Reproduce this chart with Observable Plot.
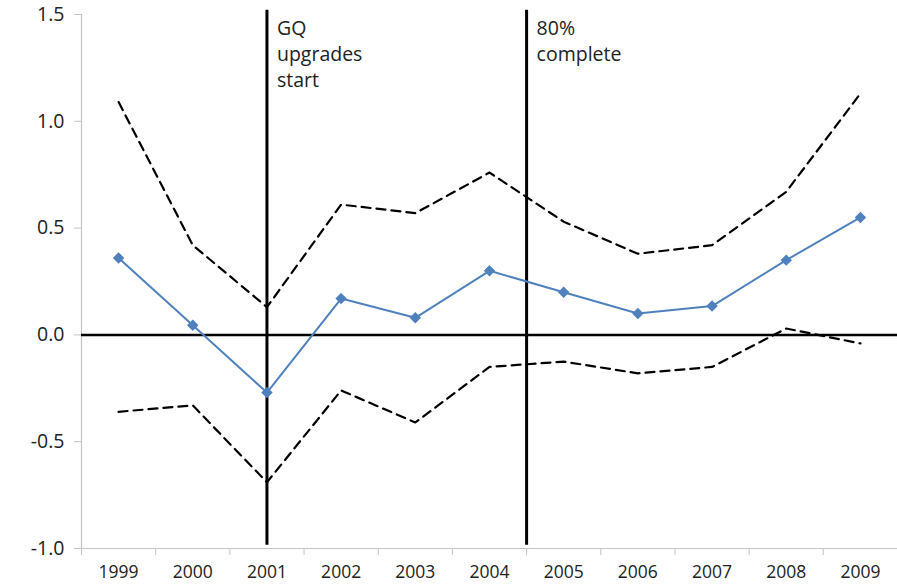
<!DOCTYPE html>
<html>
<head>
<meta charset="utf-8">
<script src="https://cdn.jsdelivr.net/npm/d3@7"></script>
<script src="https://cdn.jsdelivr.net/npm/@observablehq/plot@0.6"></script>
<style>
  html, body { margin: 0; padding: 0; background: #fff; }
  #chart svg { display: block; }
</style>
</head>
<body>
<div id="chart"></div>
<script>
// Annual estimates with upper and lower confidence bounds
const years = [1999, 2000, 2001, 2002, 2003, 2004, 2005, 2006, 2007, 2008, 2009];
const estimate = [0.36, 0.045, -0.27, 0.17, 0.08, 0.30, 0.20, 0.10, 0.135, 0.35, 0.55];
const upper = [1.09, 0.42, 0.13, 0.61, 0.57, 0.76, 0.53, 0.38, 0.42, 0.67, 1.13];
const lower = [-0.36, -0.33, -0.69, -0.26, -0.41, -0.15, -0.125, -0.18, -0.15, 0.03, -0.04];
const yTicks = [-1.0, -0.5, 0.0, 0.5, 1.0, 1.5];

// Event markers: position on the year axis and label lines
const events = [
  {x: 2001, label: "GQ\nupgrades\nstart"},
  {x: 2004.5, label: "80%\ncomplete"}
];

const rows = years.map((year, i) => ({year, estimate: estimate[i], upper: upper[i], lower: lower[i]}));
const boundaries = d3.range(years[0] - 0.5, years[years.length - 1] + 1, 1);

const font = "'Open Sans', 'DejaVu Sans', sans-serif";

const chart = Plot.plot({
  width: 897,
  height: 584,
  marginLeft: 81,
  marginRight: 0,
  marginTop: 14,
  marginBottom: 36,
  style: {fontFamily: font, background: "#fff", color: "#222"},
  x: {domain: [years[0] - 0.5, years[years.length - 1] + 0.5]},
  y: {domain: [-1, 1.5]},
  marks: [
    // axis frame lines
    Plot.ruleX([years[0] - 0.5], {stroke: "#c4c4c4", strokeWidth: 1.2}),
    Plot.ruleY([-1], {stroke: "#c4c4c4", strokeWidth: 1.2}),
    Plot.axisY({ticks: yTicks, tickFormat: d => d.toFixed(1), tickSize: 7, tickPadding: 10, fontSize: 19.5, stroke: "#c4c4c4", fill: "#222"}),
    Plot.axisX({ticks: boundaries, tickFormat: () => "", tickSize: 7, stroke: "#c4c4c4", label: null}),
    Plot.axisX({ticks: years, tickFormat: d => String(d), tickSize: 0, tickPadding: 17, fontSize: 17.5, fill: "#222", label: null}),
    // zero reference
    Plot.ruleY([0], {stroke: "#000", strokeWidth: 2.5}),
    // event lines
    Plot.ruleX(events, {x: "x", y1: -0.985, y2: 1.52, stroke: "#000", strokeWidth: 3}),
    Plot.text(events, {x: "x", y: 1.52, text: "label", dx: 10, dy: 6, textAnchor: "start", lineAnchor: "top", lineHeight: 1.34, fontSize: 19.5, fill: "#222"}),
    // confidence bounds
    Plot.line(rows, {x: "year", y: "upper", stroke: "#000", strokeWidth: 2.2, strokeDasharray: "9,6"}),
    Plot.line(rows, {x: "year", y: "lower", stroke: "#000", strokeWidth: 2.2, strokeDasharray: "9,6"}),
    // point estimates
    Plot.line(rows, {x: "year", y: "estimate", stroke: "#4F81BD", strokeWidth: 2}),
    Plot.dot(rows, {x: "year", y: "estimate", symbol: "diamond2", r: 4.2, fill: "#4F81BD", stroke: "#4F81BD"})
  ]
});

document.getElementById("chart").appendChild(chart);
</script>
</body>
</html>
